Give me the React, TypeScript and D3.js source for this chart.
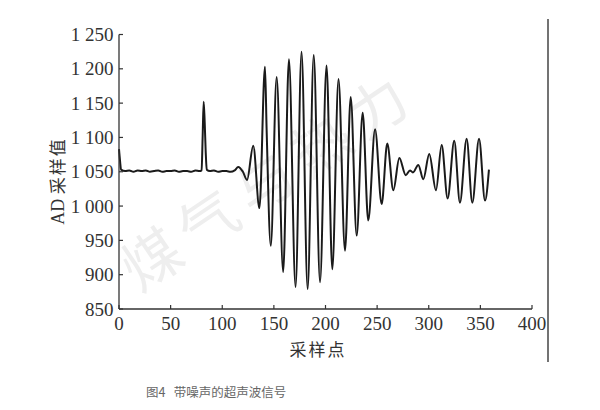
import React from "react";
import * as d3 from "d3";

// sample index (x) and AD sample value (y), read at the extrema of the trace
const sampleIdx = [
  0, 1, 2, 6, 10, 14, 18, 22, 26, 30, 34, 38, 42, 46, 50, 54, 58, 62, 66, 70, 74, 78, 80,
  81, 82, 83, 84, 85, 88, 92, 96, 100, 104, 108, 112, 115.5, 120, 124, 130, 136, 141.4, 143,
  147, 152.7, 159, 164.6, 171, 176.8, 182.7, 188.6, 194.7, 201, 206.6, 212.6, 218.9, 224.4,
  230.2, 236, 241.4, 248, 254.4, 259.8, 265.7, 271.5, 277.7, 281.8, 284.7, 289.9, 294.7,
  300.5, 307, 312.5, 318.3, 324.7, 330.2, 336.7, 342.2, 348.7, 354.5, 358.3,
];
const adValues = [
  1083, 1066, 1053, 1051, 1052, 1050, 1052, 1051, 1052, 1050, 1051, 1052, 1050, 1051, 1051,
  1052, 1050, 1051, 1051, 1050, 1052, 1051, 1052, 1100, 1152, 1122, 1078, 1053, 1051, 1052,
  1050, 1051, 1051, 1050, 1052, 1057, 1050, 1038, 1088, 997, 1203, 1110, 942, 1188, 904,
  1214, 882, 1225, 879, 1220, 889, 1205, 908, 1185, 935, 1159, 957, 1136, 979, 1112, 1003,
  1091, 1023, 1070, 1045, 1052, 1049, 1060, 1039, 1076, 1023, 1089, 1011, 1095, 1005, 1098,
  1005, 1098, 1008, 1053,
];

const xTicks = [0, 50, 100, 150, 200, 250, 300, 350, 400];
const yTicks = [850, 900, 950, 1000, 1050, 1100, 1150, 1200, 1250];
const yTickLabels = ["850", "900", "950", "1 000", "1 050", "1 100", "1 150", "1 200", "1 250"];
const xTitle = "采样点";
const caption = "图4   带噪声的超声波信号";
const watermark = "煤气与热力";

export default function App() {
  const x = d3.scaleLinear().domain([0, 400]).range([119, 532]);
  const y = d3.scaleLinear().domain([850, 1250]).range([309, 34.5]);
  const pts: [number, number][] = sampleIdx.map((s, i) => [s, adValues[i]]);
  const line = d3
    .line<[number, number]>()
    .x((d) => x(d[0]))
    .y((d) => y(d[1]))
    .curve(d3.curveMonotoneX);
  const serif = "'Liberation Serif', 'DejaVu Serif', serif";
  const cjk = "'Noto Sans CJK SC', sans-serif";
  const axisColor = "#333";
  return (
    <svg
      width={600}
      height={410}
      style={{ position: "absolute", left: 0, top: 0, background: "#fff" }}
    >
      <rect x={0} y={0} width={600} height={410} fill="#fff" />
      {/* watermark */}
      <text
        x={272}
        y={185}
        transform="rotate(-34 272 185)"
        textAnchor="middle"
        dominantBaseline="middle"
        fontFamily={cjk}
        fontSize={58}
        letterSpacing={10}
        fill="#eeeeee"
      >
        {watermark}
      </text>
      {/* trace */}
      <path d={line(pts) || ""} fill="none" stroke="#1a1a1a" strokeWidth={2} strokeLinejoin="round" />
      {/* axes */}
      <line x1={x(0)} x2={x(0)} y1={y(850)} y2={y(1250)} stroke={axisColor} strokeWidth={1.3} />
      <line x1={x(0)} x2={x(400)} y1={y(850)} y2={y(850)} stroke={axisColor} strokeWidth={1.3} />
      {yTicks.map((t, i) => (
        <g key={"y" + t}>
          <line x1={x(0)} x2={x(0) + 4} y1={y(t)} y2={y(t)} stroke={axisColor} strokeWidth={1.2} />
          <text
            x={x(0) - 5.5}
            y={y(t)}
            textAnchor="end"
            dominantBaseline="central"
            fontFamily={serif}
            fontSize={19}
            fill="#333"
          >
            {yTickLabels[i]}
          </text>
        </g>
      ))}
      {xTicks.map((t) => (
        <g key={"x" + t}>
          <line x1={x(t)} x2={x(t)} y1={y(850)} y2={y(850) - 4} stroke={axisColor} strokeWidth={1.2} />
          <text
            x={x(t)}
            y={330}
            textAnchor="middle"
            fontFamily={serif}
            fontSize={19}
            fill="#333"
          >
            {t}
          </text>
        </g>
      ))}
      <text x={318} y={356} textAnchor="middle" fontFamily={cjk} fontSize={17} letterSpacing={2} fill="#333">
        {xTitle}
      </text>
      <text
        x={64}
        y={181}
        transform="rotate(-90 64 181)"
        textAnchor="middle"
        fontFamily={serif}
        fontSize={18}
        fill="#333"
      >
        <tspan fontFamily={serif}>AD </tspan>
        <tspan fontFamily={cjk} fontSize={17} letterSpacing={2}>采样值</tspan>
      </text>
      {/* right page border */}
      <line x1={548} x2={548} y1={19} y2={362} stroke="#444" strokeWidth={1.5} />
      <text x={146} y={397} fontFamily={cjk} fontSize={12.5} fill="#666" style={{ whiteSpace: "pre" }}>
        {caption}
      </text>
    </svg>
  );
}
